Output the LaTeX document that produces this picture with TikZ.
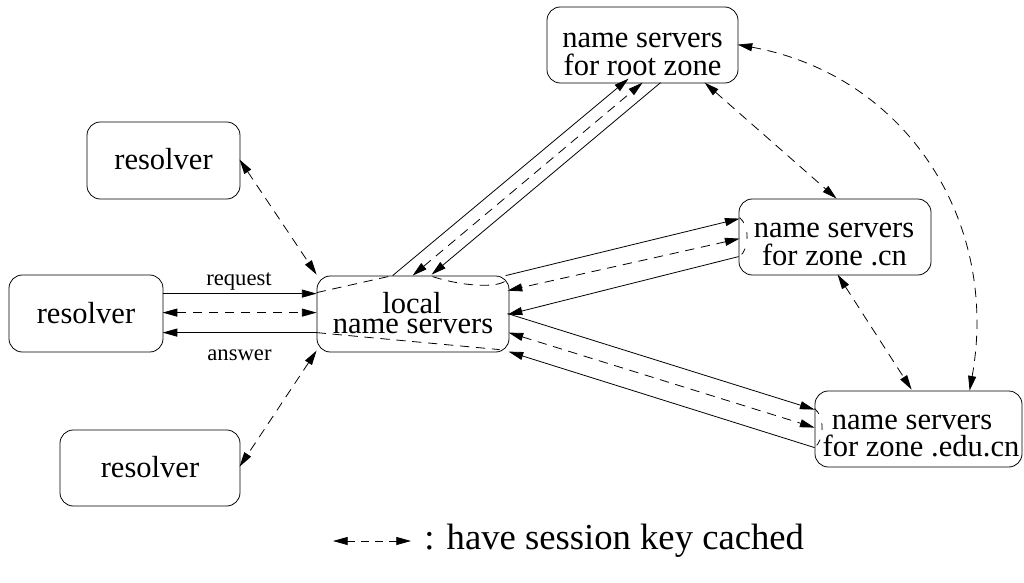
\documentclass[tikz,border=0pt]{standalone}
\usepackage{fontspec}
\setmainfont{Liberation Serif}
\usetikzlibrary{arrows.meta,calc}

\begin{document}
\begin{tikzpicture}[x=0.75pt,y=-0.75pt,
  box/.style={draw,rounded corners=10pt,line width=0.6pt,inner sep=0pt},
  big/.style={font=\fontsize{22.9}{20.8}\selectfont,inner sep=0pt,anchor=base},
  small/.style={font=\fontsize{17}{17}\selectfont,inner sep=0pt,anchor=base},
  tip/.style={-{Triangle[length=11pt,width=6pt]}},
  both/.style={{Triangle[length=11pt,width=6pt]}-{Triangle[length=11pt,width=6pt]}},
  link/.style={line width=0.6pt},
  dlink/.style={line width=0.6pt,dash pattern=on 7pt off 5pt},
  notch/.style={line width=0.6pt,dash pattern=on 5pt off 7.5pt}]
\useasboundingbox (0,0) rectangle (1024,582);

% boxes
\node[box,minimum width=143.25pt,minimum height=57pt] (root)  at (642.5,45)  {};
\node[box,minimum width=114.75pt,minimum height=57.75pt] (resA) at (163.5,160.5) {};
\node[box,minimum width=115.5pt,minimum height=57.75pt] (resB) at (86,313.5) {};
\node[box,minimum width=135pt,minimum height=57pt] (resC)  at (150,468)   {};
\node[box,minimum width=144pt,minimum height=57pt] (local) at (413,314)   {};
\node[box,minimum width=144pt,minimum height=57pt] (cn)    at (835,237)   {};
\node[box,minimum width=155.25pt,minimum height=57pt] (edu) at (918.5,429) {};

% box texts
\node[big] (rootA) at (642.5,47) {name servers};
\node[big] (rootB) at (642.5,75) {for root zone};
\node[big] (resAt) at (163.5,169) {resolver};
\node[big] (resBt) at (86,323) {resolver};
\node[big] (resCt) at (150,477) {resolver};
\node[big] (locA)  at (412,313) {local};
\node[big] (locB)  at (413,333) {name servers};
\node[big] (cnA)   at (834,237) {name servers};
\node[big] (cnB)   at (834.5,265) {for zone .cn};
\node[big] (eduA)  at (912,429) {name servers};
\node[big] (eduB)  at (921,456) {for zone .edu.cn};

\node[small] (req) at (239,285) {request};
\node[small] (ans) at (239.5,360) {answer};

% resolvers and the local name servers
\draw[link,tip]  ($(resB.north west)+(154,19)$) -- ($(local.north west)+(0,18)$);
\draw[dlink,both] ($(resB.north west)+(154,38)$) -- ($(local.north west)+(0,37)$);
\draw[link,tip]  ($(local.north west)+(0,57)$) -- ($(resB.north west)+(154,58)$);
\draw[dlink,both] ($(resA.north west)+(153,38)$) -- ($(local.north west)+(0,-1)$);
\draw[dlink,both] ($(local.north west)+(0,75)$) -- ($(resC.north west)+(180,37)$);

% local and root
\draw[link,tip]  ($(local.north west)+(76,0)$) -- ($(root.north west)+(82,72)$);
\draw[dlink,both] ($(local.north west)+(96,0)$) -- ($(root.north west)+(96,76)$);
\draw[link,tip]  ($(root.north west)+(114,76)$) -- ($(local.north west)+(115,-1)$);

% local and .cn
\draw[link,tip]  ($(local.north west)+(189,0)$) -- ($(cn.north west)+(1,20)$);
\draw[dlink,both] ($(cn.north west)+(1,40)$) -- ($(local.north west)+(191,15)$);
\draw[link,tip]  ($(cn.north west)+(0,58)$) -- ($(local.north west)+(191,39)$);

% local and .edu.cn
\draw[link,tip]  ($(local.north west)+(191,38)$) -- ($(edu.north west)+(0,19)$);
\draw[dlink,both] ($(local.north west)+(192,57)$) -- ($(edu.north west)+(0,37)$);
\draw[link,tip]  ($(edu.north west)+(0,57)$) -- ($(local.north west)+(192,76)$);

% between the zone servers
\draw[dlink,both] ($(root.north west)+(158,76)$) -- ($(cn.north west)+(98,0)$);
\draw[dlink,both] ($(cn.north west)+(99,76)$) -- ($(edu.north west)+(97,-1)$);
\draw[dlink,both] ($(root.north west)+(191,38)$) .. controls (905,75) and (1000,220) .. ($(edu.north west)+(155,0)$);

% dashed traces across the local box
\draw[dlink] ($(local.north west)+(0,17)$) -- ($(local.north west)+(76,0)$);
\draw[dlink] ($(local.north west)+(116,1)$) .. controls ($(local.north west)+(150,12)$) and ($(local.north west)+(185,12)$) .. ($(local.north west)+(190,4)$);
\draw[dlink] ($(local.north west)+(0,57)$) -- ($(local.north west)+(183,74)$);

% dashed notches inside the .cn and .edu.cn boxes
\draw[notch] ($(cn.north west)+(1,19)$) .. controls ($(cn.north west)+(11,27)$) and ($(cn.north west)+(11,50)$) .. ($(cn.north west)+(1,58)$);
\draw[notch] ($(edu.north west)+(0,18)$) .. controls ($(edu.north west)+(10,26)$) and ($(edu.north west)+(10,49)$) .. ($(edu.north west)+(0,57)$);

% legend
\coordinate (legA) at (333,541);
\coordinate (legB) at (411,541);
\draw[line width=0.6pt,dash pattern=on 6pt off 4.5pt,both] (legA) -- (legB);
\node[font=\fontsize{27.5}{27.5}\selectfont,inner sep=0pt,anchor=base west] (legT) at (424,549) {: have session key cached};
\end{tikzpicture}
\end{document}
